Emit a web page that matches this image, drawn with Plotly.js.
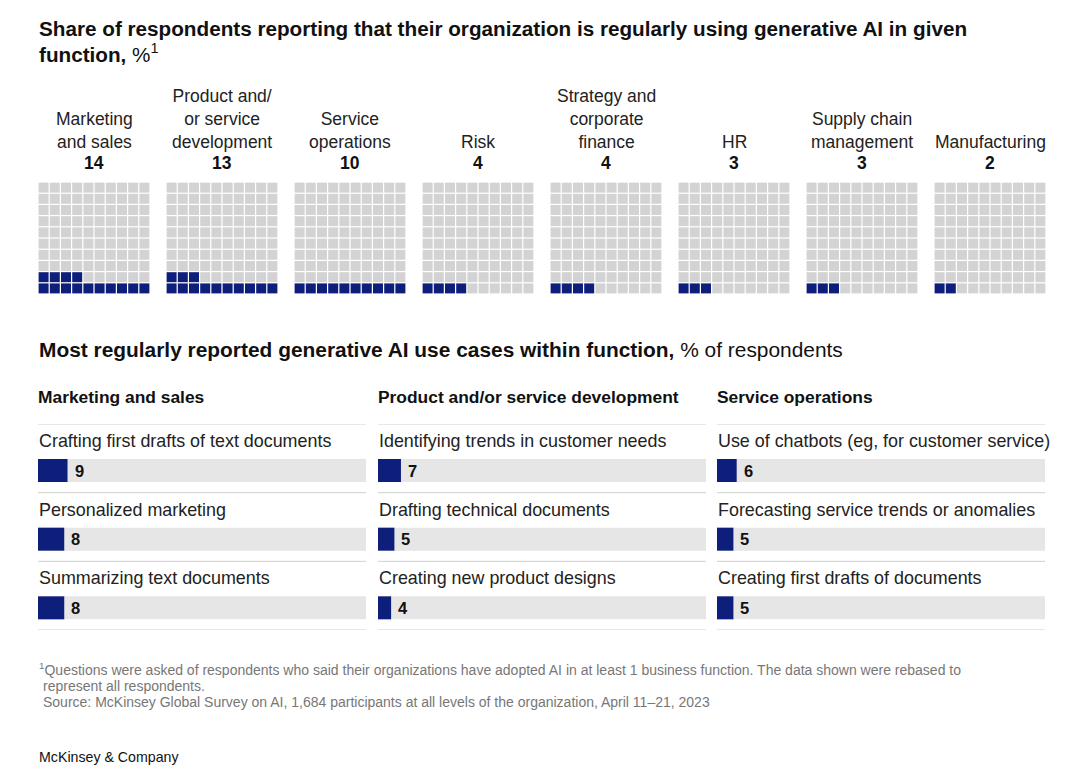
<!DOCTYPE html>
<html><head><meta charset="utf-8">
<script src="https://cdn.plot.ly/plotly-3.0.1.min.js"></script>
<style>html,body{margin:0;padding:0;background:#fff}</style>
</head><body><div id="chart" style="width:1087px;height:775px"></div>
<script>
// ---- data ----
const functionLabels = ["Marketing<br>and sales","Product and/<br>or service<br>development","Service<br>operations","Risk","Strategy and<br>corporate<br>finance","HR","Supply chain<br>management","Manufacturing"];
const functionShares = [14,13,10,4,4,3,3,2];

const columnHeaders = ["Marketing and sales","Product and/or service development","Service operations"];
const useCasesMarketing = ["Crafting first drafts of text documents","Personalized marketing","Summarizing text documents"];
const valuesMarketing = [9,8,8];
const useCasesProduct = ["Identifying trends in customer needs","Drafting technical documents","Creating new product designs"];
const valuesProduct = [7,5,4];
const useCasesService = ["Use of chatbots (eg, for customer service)","Forecasting service trends or anomalies","Creating first drafts of documents"];
const valuesService = [6,5,5];

// ---- styling / layout ----
const W = 1087, H = 775;
const NAVY = "#0e1f7b", CELL_GRAY = "#d3d3d3", BAR_GRAY = "#e6e6e6", LINE_GRAY = "#cfcfcf";
const FONT = "Liberation Sans, Arial, sans-serif";
const px = x => x / W, py = y => 1 - y / H;

const traces = [];
const annotations = [];
const shapes = [];

// Waffle grids (axis units = pixels)
const G0 = 38, GP = 128, CP = 11.2, GB = 294;
const fx = [], fy = [], ex = [], ey = [];
functionShares.forEach((v, g) => {
  for (let k = 0; k < 100; k++) {
    const r = Math.floor(k / 10), c = k % 10;
    const x = G0 + g * GP + c * CP + CP / 2;
    const y = GB - r * CP - CP / 2;
    if (k < v) { fx.push(x); fy.push(y); } else { ex.push(x); ey.push(y); }
  }
  const cx = G0 + g * GP + 56;
  annotations.push({xref:"paper", yref:"paper", x:px(cx), y:py(154), xanchor:"center", yanchor:"bottom",
    text:functionLabels[g], showarrow:false, font:{family:FONT, size:17.5, color:"#222"}, align:"center"});
  annotations.push({xref:"paper", yref:"paper", x:px(cx), y:py(163), xanchor:"center", yanchor:"middle",
    text:"<b>"+v+"</b>", showarrow:false, font:{family:FONT, size:17.5, color:"#111"}});
});
traces.push({type:"scatter", mode:"markers", x:ex, y:ey, xaxis:"x", yaxis:"y", hoverinfo:"skip",
  marker:{symbol:"square", size:10, color:CELL_GRAY, line:{width:0}}});
traces.push({type:"scatter", mode:"markers", x:fx, y:fy, xaxis:"x", yaxis:"y", hoverinfo:"skip",
  marker:{symbol:"square", size:10, color:NAVY, line:{width:0}}});

// Bar columns
const cols = [
  {left:38, right:366, labels:useCasesMarketing, values:valuesMarketing},
  {left:378, right:706, labels:useCasesProduct, values:valuesProduct},
  {left:717, right:1045, labels:useCasesService, values:valuesService}
];
const TOP = 424, BOT = 630, ROWH = (BOT - TOP) / 3;
const barC = (470.5 - TOP) / ROWH, barW = 23 / ROWH, labC = (441 - TOP) / ROWH;
const bg0 = (459 - TOP) / ROWH, bg1 = (482 - TOP) / ROWH;
const layoutAxes = {};
cols.forEach((col, i) => {
  const n = i + 2, xa = "x" + n, ya = "y" + n;
  layoutAxes["xaxis" + n] = {domain:[px(col.left), px(col.right)], range:[0,100], visible:false, fixedrange:true, anchor:ya};
  layoutAxes["yaxis" + n] = {domain:[py(BOT), py(TOP)], range:[3,0], visible:false, fixedrange:true, anchor:xa};
  traces.push({type:"bar", orientation:"h", x:col.values, y:col.values.map((_, j) => j + barC),
    width:barW, xaxis:xa, yaxis:ya, marker:{color:NAVY, line:{width:0}}, hoverinfo:"skip"});
  annotations.push({xref:"paper", yref:"paper", x:px(col.left), y:py(397), xanchor:"left", yanchor:"middle", xshift:-2,
    text:"<b>"+columnHeaders[i]+"</b>", showarrow:false, font:{family:FONT, size:17.4, color:"#111"}});
  for (let j = 0; j <= 3; j++) {
    shapes.push({type:"line", xref:xa+" domain", yref:ya, x0:0, x1:1, y0:j, y1:j, layer:"below",
      line:{color:LINE_GRAY, width:1}});
  }
  col.labels.forEach((lab, j) => {
    shapes.push({type:"rect", xref:xa+" domain", yref:ya, x0:0, x1:1, y0:j+bg0, y1:j+bg1, layer:"below",
      fillcolor:BAR_GRAY, line:{width:0}});
    annotations.push({xref:xa, yref:ya, x:0, y:j+labC, xanchor:"left", yanchor:"middle", xshift:-1,
      text:lab, showarrow:false, font:{family:FONT, size:17.9, color:"#222"}});
    annotations.push({xref:xa, yref:ya, x:col.values[j], y:j+barC, xanchor:"left", yanchor:"middle", xshift:5,
      text:"<b>"+col.values[j]+"</b>", showarrow:false, font:{family:FONT, size:16.5, color:"#111"}});
  });
});

// Titles and notes
const txt = (x, y, text, size, color, anchor) => annotations.push({xref:"paper", yref:"paper", x:px(x), y:py(y),
  xanchor:anchor||"left", yanchor:"middle", text, showarrow:false, font:{family:FONT, size, color}, align:"left"});
txt(37, 28, "<b>Share of respondents reporting that their organization is regularly using generative AI in given</b>", 20.7, "#111");
txt(37, 53, "<b>function,</b> %<sup>1</sup>", 20.7, "#111");
txt(37, 349, "<b>Most regularly reported generative AI use cases within function,</b> % of respondents", 20.9, "#111");
txt(37, 669, "<sup>1</sup>Questions were asked of respondents who said their organizations have adopted AI in at least 1 business function. The data shown were rebased to", 14, "#777");
txt(41, 686, "represent all respondents.", 14, "#777");
txt(41, 702, "Source: McKinsey Global Survey on AI, 1,684 participants at all levels of the organization, April 11–21, 2023", 14, "#777");
txt(37, 757, "McKinsey &amp; Company", 14.2, "#111");

const layout = Object.assign({
  width:W, height:H, margin:{l:0, r:0, t:0, b:0}, paper_bgcolor:"#fff", plot_bgcolor:"rgba(0,0,0,0)",
  showlegend:false, barmode:"overlay", font:{family:FONT},
  xaxis:{domain:[px(38), px(1046)], range:[38,1046], visible:false, fixedrange:true, anchor:"y"},
  yaxis:{domain:[py(294), py(182)], range:[294,182], visible:false, fixedrange:true, anchor:"x"},
  annotations, shapes
}, layoutAxes);

Plotly.newPlot("chart", traces, layout, {displayModeBar:false, staticPlot:true});
</script></body></html>
